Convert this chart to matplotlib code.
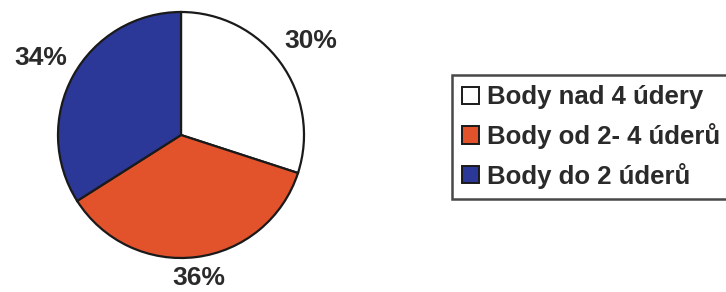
import numpy as np
import matplotlib
matplotlib.use("Agg")
import matplotlib.pyplot as plt
from matplotlib.patches import Patch

plt.rcParams["font.family"] = ["Liberation Sans", "DejaVu Sans"]
plt.rcParams["font.weight"] = "bold"

categories = ["Body nad 4 údery", "Body od 2- 4 úderů", "Body do 2 úderů"]
shares = [30, 36, 34]
colors = ["#ffffff", "#e2522b", "#2b3898"]
text_color = "#2a2a2a"
label_dist = [1.30, 1.17, 1.30]

W, H = 726, 292
fig = plt.figure(figsize=(W / 100, H / 100), dpi=100)

# pie centre (181, 135) px from top-left, radius ~123 px
cx, cy, r = 181, 135, 123
ax = fig.add_axes([(cx - r) / W, (H - cy - r) / H, 2 * r / W, 2 * r / H])
wedges, _ = ax.pie(shares, colors=colors, startangle=90, counterclock=False,
                   wedgeprops=dict(edgecolor="#1a1a1a", linewidth=1.6))
for w, s, d in zip(wedges, shares, label_dist):
    th = np.deg2rad((w.theta1 + w.theta2) / 2)
    ax.text(d * np.cos(th), d * np.sin(th), "%d%%" % s, ha="center", va="center",
            fontsize=19, fontweight="bold", color=text_color)
ax.set_xlim(-1, 1); ax.set_ylim(-1, 1)
ax.set_aspect("equal")

handles = [Patch(facecolor=c, edgecolor="#1a1a1a", linewidth=1.4) for c in colors]
leg = fig.legend(handles, categories, loc="upper left",
                 bbox_to_anchor=(452 / W, (H - 75) / H),
                 frameon=True, fancybox=False, fontsize=18.5,
                 handlelength=0.66, handleheight=0.66, handletextpad=0.3,
                 labelspacing=0.53, borderpad=0.4, borderaxespad=0)
leg.get_frame().set_edgecolor("#1a1a1a")
leg.get_frame().set_linewidth(1.8)
for t in leg.get_texts():
    t.set_color(text_color)

fig.savefig("out.png", dpi=100)
